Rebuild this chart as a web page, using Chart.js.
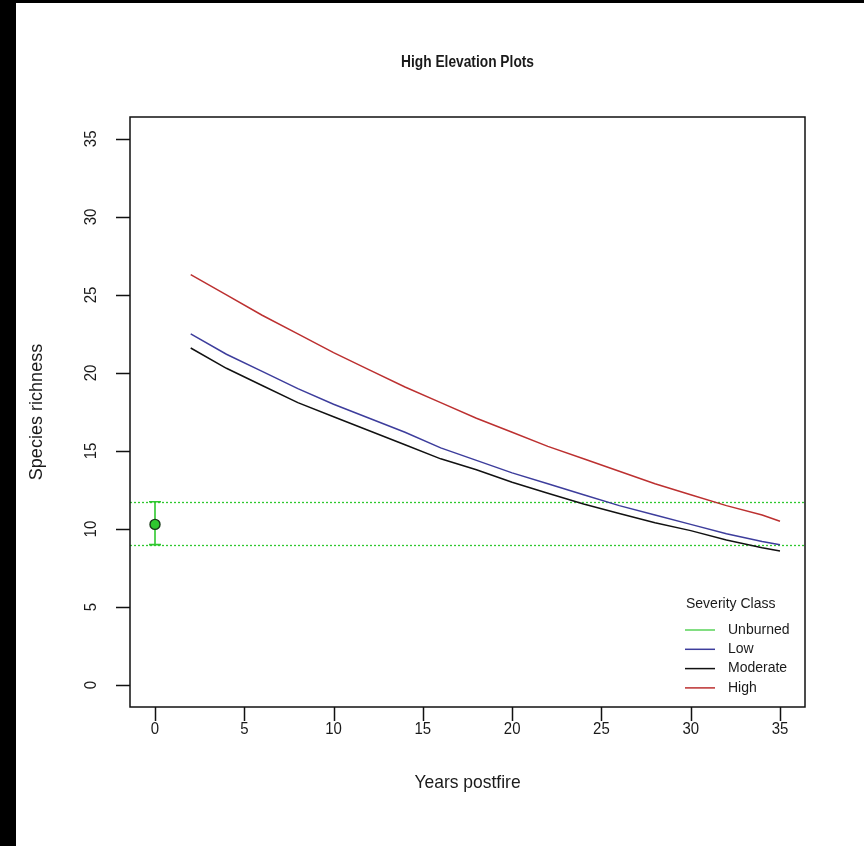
<!DOCTYPE html>
<html>
<head>
<meta charset="utf-8">
<script src="https://cdn.jsdelivr.net/npm/chart.js@4/dist/chart.umd.min.js"></script>
<style>
  html, body { margin: 0; padding: 0; background: #000; }
  #wrap { position: absolute; left: 0; top: 0; width: 864px; height: 846px; }
</style>
</head>
<body>
<div id="wrap"><canvas id="c" width="864" height="846"></canvas></div>
<script>
// Years postfire at which the fitted richness curves are drawn
const years = [2, 4, 6, 8, 10, 12, 14, 16, 18, 20, 22, 24, 26, 28, 30, 32, 34, 35];
// Fitted species richness by severity class
const lowRichness      = [22.5, 21.2, 20.1, 19.0, 18.0, 17.1, 16.2, 15.2, 14.4, 13.6, 12.9, 12.2, 11.5, 10.9, 10.3, 9.7, 9.2, 9.0];
const moderateRichness = [21.6, 20.3, 19.2, 18.1, 17.2, 16.3, 15.4, 14.5, 13.8, 13.0, 12.3, 11.6, 11.0, 10.4, 9.9, 9.3, 8.8, 8.6];
const highRichness     = [26.3, 25.0, 23.7, 22.5, 21.3, 20.2, 19.1, 18.1, 17.1, 16.2, 15.3, 14.5, 13.7, 12.9, 12.2, 11.5, 10.9, 10.5];
// Unburned reference plots: mean with lower/upper interval
const unburnedYear = 0;
const unburnedMean = 10.3;
const unburnedLower = 9.0;
const unburnedUpper = 11.75;
// Axis ticks
const xTicks = [0, 5, 10, 15, 20, 25, 30, 35];
const yTicks = [0, 5, 10, 15, 20, 25, 30, 35];
// Legend
const legendTitle = 'Severity Class';
const severityClasses = ['Unburned', 'Low', 'Moderate', 'High'];

const GREEN = '#2fc82f';
const BLUE = '#3d3d9c';
const BLACK = '#111111';
const RED = '#bc3030';
const classColors = [GREEN, BLUE, BLACK, RED];

const FONT = '"Liberation Sans", Arial, sans-serif';

function pts(xs, ys) { return xs.map((x, i) => ({ x: x, y: ys[i] })); }

function text(ctx, str, x, y, font, opts) {
  opts = opts || {};
  ctx.save();
  ctx.translate(x, y);
  if (opts.rot) ctx.rotate(opts.rot);
  ctx.scale(opts.sx || 1, 1);
  ctx.font = font;
  ctx.fillStyle = opts.color || '#1a1a1a';
  ctx.textAlign = opts.align || 'center';
  ctx.textBaseline = 'middle';
  ctx.fillText(str, 0, 0);
  ctx.restore();
}

const frame = {
  id: 'frame',
  beforeDraw(chart) {
    const ctx = chart.ctx;
    ctx.save();
    ctx.fillStyle = '#000';
    ctx.fillRect(0, 0, chart.width, chart.height);
    ctx.fillStyle = '#fff';
    ctx.fillRect(16, 3, chart.width - 16, chart.height - 3);
    ctx.restore();

    // Unburned interval guides across the plot
    const a = chart.chartArea, ys = chart.scales.y;
    ctx.save();
    ctx.beginPath();
    ctx.rect(a.left, a.top, a.right - a.left, a.bottom - a.top);
    ctx.clip();
    ctx.strokeStyle = GREEN;
    ctx.lineWidth = 1.3;
    ctx.setLineDash([2, 2]);
    [unburnedLower, unburnedUpper].forEach(v => {
      const py = Math.round(ys.getPixelForValue(v)) + 0.5;
      ctx.beginPath();
      ctx.moveTo(a.left, py);
      ctx.lineTo(a.right, py);
      ctx.stroke();
    });
    ctx.restore();
  },
  beforeDatasetsDraw(chart) {
    // Error bar for the unburned mean
    const ctx = chart.ctx, xs = chart.scales.x, ys = chart.scales.y;
    const px = xs.getPixelForValue(unburnedYear);
    const top = ys.getPixelForValue(unburnedUpper);
    const bot = ys.getPixelForValue(unburnedLower);
    ctx.save();
    ctx.strokeStyle = GREEN;
    ctx.lineWidth = 1.6;
    ctx.beginPath();
    ctx.moveTo(px, top); ctx.lineTo(px, bot);
    ctx.moveTo(px - 6, top); ctx.lineTo(px + 6, top);
    ctx.moveTo(px - 6, bot); ctx.lineTo(px + 6, bot);
    ctx.stroke();
    ctx.restore();
  },
  afterDraw(chart) {
    const ctx = chart.ctx, a = chart.chartArea, xs = chart.scales.x, ys = chart.scales.y;
    ctx.save();
    // plot box
    ctx.strokeStyle = '#111';
    ctx.lineWidth = 1.5;
    ctx.strokeRect(a.left, a.top, a.right - a.left, a.bottom - a.top);

    // tick marks
    ctx.beginPath();
    xTicks.forEach(v => {
      const p = Math.round(xs.getPixelForValue(v)) + 0.5;
      ctx.moveTo(p, a.bottom); ctx.lineTo(p, a.bottom + 14);
    });
    yTicks.forEach(v => {
      const p = Math.round(ys.getPixelForValue(v)) + 0.5;
      ctx.moveTo(a.left, p); ctx.lineTo(a.left - 14, p);
    });
    ctx.stroke();
    ctx.restore();

    // tick labels
    xTicks.forEach(v => {
      text(ctx, String(v), xs.getPixelForValue(v), a.bottom + 22, '17px ' + FONT, { sx: 0.88 });
    });
    yTicks.forEach(v => {
      text(ctx, String(v), a.left - 39, ys.getPixelForValue(v), '17px ' + FONT, { sx: 0.88, rot: -Math.PI / 2 });
    });

    // titles
    text(ctx, 'High Elevation Plots', (a.left + a.right) / 2, 63, 'bold 16px ' + FONT, { sx: 0.86 });
    text(ctx, 'Years postfire', (a.left + a.right) / 2, 783, '19px ' + FONT, { sx: 0.92 });
    text(ctx, 'Species richness', 37, (a.top + a.bottom) / 2, '19px ' + FONT, { sx: 0.95, rot: -Math.PI / 2 });

    // legend
    text(ctx, legendTitle, 686, 604, '14px ' + FONT, { align: 'left' });
    severityClasses.forEach((name, i) => {
      const y = 630 + i * 19.3;
      ctx.save();
      ctx.strokeStyle = classColors[i];
      ctx.globalAlpha = i === 0 ? 0.8 : 1;
      ctx.lineWidth = 1.5;
      ctx.beginPath();
      ctx.moveTo(685, y); ctx.lineTo(715, y);
      ctx.stroke();
      ctx.restore();
      text(ctx, name, 728, y, '14px ' + FONT, { align: 'left' });
    });
  }
};

const lineStyle = { showLine: true, pointRadius: 0, borderWidth: 1.5, tension: 0, fill: false };

new Chart(document.getElementById('c'), {
  type: 'scatter',
  data: {
    datasets: [
      Object.assign({ label: 'Low', data: pts(years, lowRichness), borderColor: BLUE }, lineStyle),
      Object.assign({ label: 'Moderate', data: pts(years, moderateRichness), borderColor: BLACK }, lineStyle),
      Object.assign({ label: 'High', data: pts(years, highRichness), borderColor: RED }, lineStyle),
      {
        label: 'Unburned',
        data: [{ x: unburnedYear, y: unburnedMean }],
        showLine: false,
        pointRadius: 5,
        pointBackgroundColor: GREEN,
        pointBorderColor: '#183818',
        pointBorderWidth: 1.4
      }
    ]
  },
  options: {
    responsive: false,
    animation: false,
    devicePixelRatio: 1,
    layout: { padding: { left: 130, top: 117, right: 59, bottom: 139 } },
    scales: {
      x: { type: 'linear', min: -1.4, max: 36.4, display: false },
      y: { type: 'linear', min: -1.4, max: 36.4, display: false }
    },
    plugins: { legend: { display: false }, tooltip: { enabled: false }, title: { display: false } }
  },
  plugins: [frame]
});
</script>
</body>
</html>
